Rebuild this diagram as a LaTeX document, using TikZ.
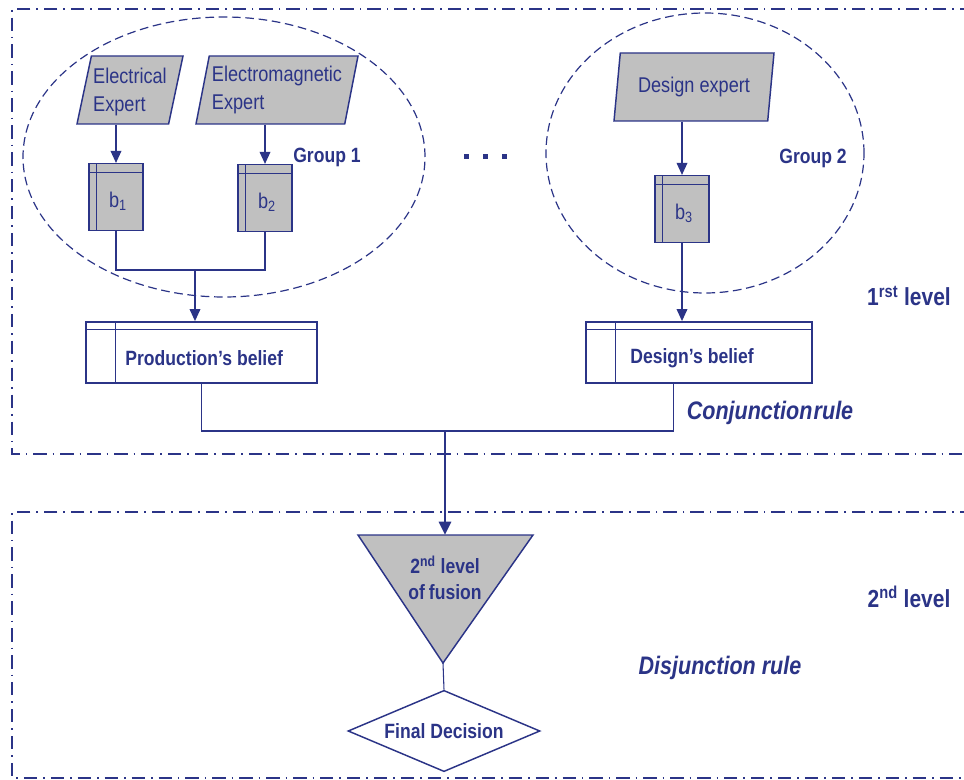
\documentclass[tikz,border=0pt]{standalone}
\usepackage{fontspec}
\setmainfont{Liberation Sans}[FakeStretch=0.85]
\usetikzlibrary{arrows.meta,shapes.geometric}
\definecolor{navy}{RGB}{43,52,135}
\definecolor{boxgray}{RGB}{192,192,192}

\begin{document}
\begin{tikzpicture}[x=0.75pt, y=-0.75pt,
    every node/.style={text=navy},
    frame/.style={navy, line width=1.2pt, dash pattern=on 10pt off 4.5pt on 1.2pt off 4.5pt},
    group/.style={ellipse, draw=navy, line width=0.9pt, dash pattern=on 6.5pt off 3.5pt, inner sep=0},
    expert/.style={trapezium, trapezium left angle=76, trapezium right angle=104, trapezium stretches body,
      draw=navy, fill=boxgray, line width=1.1pt, minimum height=51pt, align=left, inner xsep=0.5pt, inner ysep=2pt,
      font=\fontsize{16}{21}\selectfont},
    bpa/.style={draw=navy, fill=boxgray, line width=1.1pt, minimum width=40.5pt, minimum height=50pt,
      font=\fontsize{16}{19}\selectfont,
      path picture={\draw[navy, line width=0.9pt]
        ([xshift=5.5pt]path picture bounding box.north west) -- ([xshift=5.5pt]path picture bounding box.south west)
        ([yshift=-6.5pt]path picture bounding box.north west) -- ([yshift=-6.5pt]path picture bounding box.north east);}},
    belief/.style={draw=navy, fill=white, line width=1.1pt, minimum height=46pt,
      font=\fontsize{15.5}{18}\bfseries,
      path picture={\draw[navy, line width=0.9pt]
        ([xshift=22pt]path picture bounding box.north west) -- ([xshift=22pt]path picture bounding box.south west)
        ([yshift=-6pt]path picture bounding box.north west) -- ([yshift=-6pt]path picture bounding box.north east);}},
    lbl/.style={font=\fontsize{15.5}{19}\bfseries},
    lvl/.style={font=\fontsize{18.5}{22}\bfseries},
    rule/.style={font=\fontsize{19}{22}\bfseries\itshape},
    link/.style={navy, line width=1pt},
    arr/.style={link, -{Triangle[length=9pt, width=8pt]}}
  ]
  \useasboundingbox (0,0) rectangle (964,780);

  % the two levels
  \draw[frame] (1000,9) -- (12,9) -- (12,454) -- (1000,454);
  \draw[frame] (1000,512) -- (12,512) -- (12,778) -- (1000,778);

  % groups of experts
  \node[group, minimum width=301.5pt, minimum height=210pt] (g1) at (224,157) {};
  \node[group, minimum width=238.5pt, minimum height=210pt] (g2) at (705,153) {};
  \node[lbl] (g1lbl) at (327,157) {Group 1};
  \node[lbl] (g2lbl) at (813,158) {Group 2};
  \foreach \x in {466,485,504}
    \fill[navy] (\x-2.5,154.5) rectangle (\x+2.5,159.5);

  \node[expert, minimum width=79.5pt] (e1) at (130,90) {\rule{0pt}{15pt}Electrical\\Expert};
  \node[expert, minimum width=121.5pt] (e2) at (277,90) {Electromagnetic\\Expert};
  \node[expert, minimum width=120pt] (e3) at (694,87) {Design expert};

  \node[bpa] (b1) at (116,197) {\rule{0pt}{18pt}\hspace{3pt}b\textsubscript{1}};
  \node[bpa] (b2) at (265,198) {\rule{0pt}{18pt}\hspace{3pt}b\textsubscript{2}};
  \node[bpa] (b3) at (682,209) {\rule{0pt}{18pt}\hspace{3pt}b\textsubscript{3}};

  \node[belief, minimum width=173pt] (prod) at (201.5,352.5) {\rule{0pt}{20pt}\hspace{4pt}Production’s belief};
  \node[belief, minimum width=169.5pt] (des) at (699,352.5) {\rule{0pt}{20pt}Design’s belief\kern10.5pt};

  \draw[arr] (e1.south -| b1.north) -- (b1.north);
  \draw[arr] (e2.south -| b2.north) -- (b2.north);
  \draw[arr] (e3.south -| b3.north) -- (b3.north);
  \coordinate (j1) at (195,270);
  \draw[link] (b1.south) |- (j1) -| (b2.south);
  \draw[arr] (j1) -- (j1 |- prod.north);
  \draw[arr] (b3.south) -- (b3.south |- des.north);

  \coordinate (j2) at (445,431);
  \draw[link] (prod.south) |- (j2) -| ([xshift=-19pt]des.south);
  \node[rule] (conj) at (770,413) {Conjunction\hspace{1pt}rule};
  \node[lvl] (lv1) at (909,296) {1\textsuperscript{rst} level};

  % second level
  \coordinate (ftl) at (358,535);
  \coordinate (ftr) at (533,535);
  \coordinate (fap) at (443,663);
  \coordinate (ftop) at (445,535);
  \filldraw[draw=navy, fill=boxgray, line width=1.1pt] (ftl) -- (ftr) -- (fap) -- cycle;
  \node[lbl, align=center] (fus) at (445,578) {2\textsuperscript{nd} level\\of\hspace{3pt}fusion};
  \draw[navy, line width=2.2pt, -{Triangle[length=10pt, width=9pt]}] (j2) -- (ftop);

  \node[diamond, aspect=2.37, draw=navy, fill=white, line width=1.1pt, inner sep=0,
    minimum width=144pt, minimum height=61pt, lbl] (dec) at (444,731) {Final Decision};
  \draw[navy, line width=0.8pt] (fap) -- (dec.north);

  \node[lvl] (lv2) at (909,597) {2\textsuperscript{nd} level};
  \node[rule] (disj) at (720,668) {Disjunction rule};
\end{tikzpicture}
\end{document}
